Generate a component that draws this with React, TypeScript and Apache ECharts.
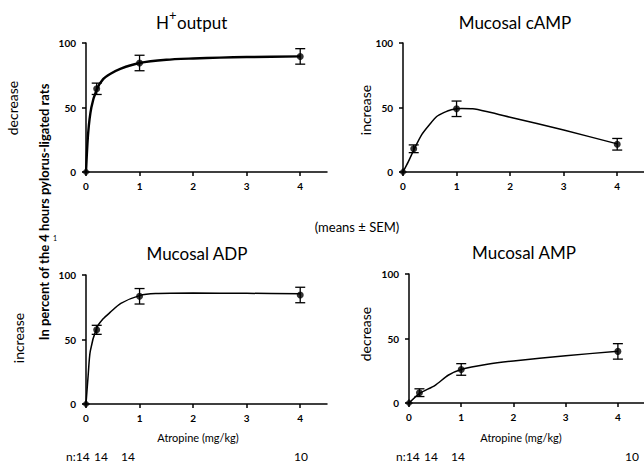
import React, { useEffect, useRef } from "react";
import * as echarts from "echarts";

// Measured points (dose in mg/kg, mean %, SEM)
const doses = [0, 0.2, 1, 4];
const hMean = [0, 64.5, 84.5, 89.6];
const hSem = [0, 4.4, 6, 6];
const campMean = [0, 18, 49, 21.5];
const campSem = [0, 3, 6, 4.5];
const adpMean = [0, 57.5, 83.5, 84.5];
const adpSem = [0, 3.5, 6, 6];
const ampMean = [0, 8, 26, 40];
const ampSem = [0, 3, 4.5, 6];

// Fitted curves
const hCurveX = [0, 0.04, 0.1, 0.2, 0.32, 0.45, 0.64, 1, 1.5, 2, 2.5, 3, 4];
const hCurveY = [0, 30, 50, 64, 72, 76, 80, 84.5, 87, 88, 88.7, 89.1, 89.6];
const campCurveX = [0, 0.1, 0.2, 0.35, 0.5, 0.63, 0.76, 0.9, 1.1, 1.3, 1.6, 2, 3, 4];
const campCurveY = [0, 8, 17, 29, 37, 43, 46, 48.3, 49.2, 49, 46.5, 42.5, 32.5, 21.8];
const adpCurveX = [0, 0.04, 0.08, 0.2, 0.32, 0.45, 0.65, 1, 1.3, 2, 3, 4];
const adpCurveY = [0, 22, 41, 59, 66, 71, 78, 84, 85.6, 86, 85.8, 85.5];
const ampCurveX = [0, 0.2, 0.5, 0.75, 1, 1.5, 2, 3, 4];
const ampCurveY = [0, 7.3, 13.7, 21.5, 26, 30, 32.6, 36.6, 40.2];

const xTicks = [0, 1, 2, 3, 4];
const titles = ["H+output", "Mucosal cAMP", "Mucosal ADP", "Mucosal AMP"];
const yNames = ["decrease", "increase", "increase", "decrease"];
const nLabels = ["n:14", "14", "14", "10"];

const FONT = "Lato, 'Liberation Sans', sans-serif";

export default function App() {
  const ref = useRef<HTMLDivElement>(null);
  useEffect(() => {
    if (!ref.current) return;
    const chart = echarts.init(ref.current, undefined, { renderer: "svg" });

    const grids = [
      { left: 86, top: 43, width: 241, height: 129 },
      { left: 403, top: 43, width: 241, height: 129 },
      { left: 86, top: 275, width: 241, height: 129 },
      { left: 409, top: 274, width: 241, height: 129 },
    ];
    const means = [hMean, campMean, adpMean, ampMean];
    const sems = [hSem, campSem, adpSem, ampSem];
    const curvesX = [hCurveX, campCurveX, adpCurveX, ampCurveX];
    const curvesY = [hCurveY, campCurveY, adpCurveY, ampCurveY];
    const lineWidths = [2.4, 1.5, 1.5, 1.5];

    const axisLineStyle = { color: "#000", width: 1.5 };
    const xAxes = grids.map((_, i) => ({
      type: "value",
      gridIndex: i,
      min: 0,
      max: 4.5,
      interval: 1,
      splitLine: { show: false },
      axisLine: { show: true, onZero: false, lineStyle: axisLineStyle },
      axisTick: { show: true, inside: false, length: 4, customValues: xTicks, lineStyle: axisLineStyle },
      axisLabel: {
        customValues: xTicks,
        margin: 9,
        fontSize: 10,
        fontWeight: "bold",
        color: "#000",
        fontFamily: FONT,
      },
    }));
    const yAxes = grids.map((_, i) => ({
      type: "value",
      gridIndex: i,
      min: 0,
      max: 100,
      interval: 50,
      splitLine: { show: false },
      axisLine: { show: true, lineStyle: axisLineStyle },
      axisTick: { show: true, inside: false, length: 4, lineStyle: axisLineStyle },
      axisLabel: { margin: 10, fontSize: 10, fontWeight: "bold", color: "#000", fontFamily: FONT },
    }));

    const series: any[] = [];
    grids.forEach((_, i) => {
      series.push({
        type: "line",
        xAxisIndex: i,
        yAxisIndex: i,
        data: curvesX[i].map((x, k) => [x, curvesY[i][k]]),
        smooth: 0.25,
        showSymbol: false,
        lineStyle: { color: "#000", width: lineWidths[i] },
        silent: true,
      });
      series.push({
        type: "custom",
        xAxisIndex: i,
        yAxisIndex: i,
        data: doses.map((d, k) => [d, means[i][k], sems[i][k]]),
        renderItem: (params: any, api: any) => {
          const x = api.value(0);
          const m = api.value(1);
          const s = api.value(2);
          if (!s) return null;
          const top = api.coord([x, m + s]);
          const bot = api.coord([x, m - s]);
          const w = 5;
          const style = { stroke: "#000", lineWidth: 1.3 };
          return {
            type: "group",
            children: [
              { type: "line", shape: { x1: top[0], y1: top[1], x2: bot[0], y2: bot[1] }, style },
              { type: "line", shape: { x1: top[0] - w, y1: top[1], x2: top[0] + w, y2: top[1] }, style },
              { type: "line", shape: { x1: bot[0] - w, y1: bot[1], x2: bot[0] + w, y2: bot[1] }, style },
            ],
          };
        },
        silent: true,
        z: 3,
      });
      series.push({
        type: "scatter",
        xAxisIndex: i,
        yAxisIndex: i,
        data: doses.map((d, k) =>
          d === 0
            ? { value: [d, means[i][k]], symbol: "diamond", symbolSize: 8 }
            : { value: [d, means[i][k]], symbol: "circle", symbolSize: 7 }
        ),
        itemStyle: { color: "#000" },
        silent: true,
        z: 4,
      });
    });

    const txt = (x: number, y: number, text: string, size: number, extra: any = {}) => ({
      type: "text",
      x,
      y,
      style: {
        text,
        fontSize: size,
        fontFamily: FONT,
        fill: "#000",
        textAlign: "center",
        textVerticalAlign: "middle",
        ...extra.style,
      },
      ...(extra.rotation !== undefined ? { rotation: extra.rotation } : {}),
    });

    const graphics: any[] = [
      // H+output title
      txt(156, 22, titles[0].slice(0, 1), 17, { style: { textAlign: "left" } }),
      txt(169, 15, titles[0].slice(1, 2), 13, { style: { textAlign: "left" } }),
      txt(177, 22, titles[0].slice(2), 17, { style: { textAlign: "left" } }),
      txt(515, 22, titles[1], 17),
      txt(197, 253, titles[2], 17),
      txt(524, 252, titles[3], 17),
      // y names
      txt(12, 108, yNames[0], 14, { rotation: Math.PI / 2 }),
      txt(365, 110, yNames[1], 14, { rotation: Math.PI / 2 }),
      txt(18, 338, yNames[2], 14, { rotation: Math.PI / 2 }),
      txt(365, 334, yNames[3], 14, { rotation: Math.PI / 2 }),
      // big shared label
      txt(44, 212, "In percent of the 4 hours pylorus-ligated rats", 13, {
        rotation: Math.PI / 2,
        style: { fontWeight: "bold" },
      }),
      txt(55, 238, "1", 7),
      txt(357, 227, "(means ± SEM)", 13),
      txt(198, 437, "Atropine (mg/kg)", 11),
      txt(521, 437, "Atropine (mg/kg)", 11),
      // n labels bottom-left
      txt(66, 456, nLabels[0], 12, { style: { textAlign: "left" } }),
      txt(101, 456, nLabels[1], 12),
      txt(128, 456, nLabels[2], 12),
      txt(301, 456, nLabels[3], 12),
      // n labels bottom-right
      txt(396, 456, nLabels[0], 12, { style: { textAlign: "left" } }),
      txt(431, 456, nLabels[1], 12),
      txt(458, 456, nLabels[2], 12),
      txt(632, 456, nLabels[3], 12),
    ];

    chart.setOption({
      animation: false,
      backgroundColor: "#fff",
      grid: grids,
      xAxis: xAxes,
      yAxis: yAxes,
      series,
      graphic: graphics,
    });
    return () => chart.dispose();
  }, []);
  return (
    <div
      ref={ref}
      style={{ position: "absolute", left: 0, top: 0, width: 644, height: 462 }}
    />
  );
}
